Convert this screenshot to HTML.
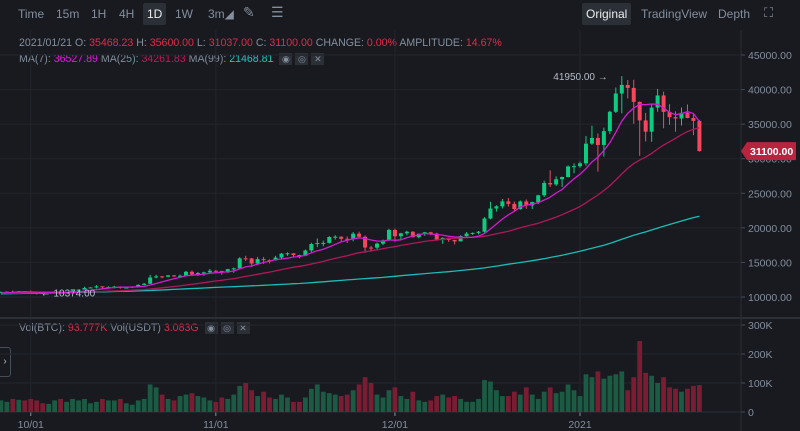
<!DOCTYPE html>
<html><head><meta charset="utf-8">
<style>
*{margin:0;padding:0;box-sizing:border-box}
body{width:800px;height:431px;background:#181a20;overflow:hidden;font-family:"Liberation Sans",sans-serif;color:#848e9c;position:relative}
.tb{position:absolute;top:0;left:0;width:800px;height:28px}
.tb span{position:absolute;top:7px;font-size:12px;color:#848e9c}
.info{position:absolute;left:19px;font-size:10.6px;white-space:nowrap}
.red{color:#e0294a}.mag{color:#e617e6}.ma25{color:#c2185b}.cy{color:#1ec8c0}
.ib{display:inline-block;width:13px;height:12px;background:#2b2f36;vertical-align:middle;margin-left:3px;text-align:center;line-height:12px;font-size:9px;color:#848e9c}
svg{position:absolute;left:0;top:0}
</style></head><body>
<div class="tb">
<span style="left:18px">Time</span>
<span style="left:56px">15m</span>
<span style="left:91px">1H</span>
<span style="left:119px">4H</span>
<span style="left:143px;top:3px;padding:4px 4px;background:#2b2f36;color:#eaecef;border-radius:2px">1D</span>
<span style="left:175px">1W</span>
<span style="left:208px">3m◢</span>
<span style="left:243px;font-size:14px;top:4px">✎</span>
<span style="left:271px;font-size:14px;top:4px">☰</span>
<span style="left:582px;top:3px;padding:4px 4px;background:#2b2f36;color:#eaecef;border-radius:2px">Original</span>
<span style="left:641px">TradingView</span>
<span style="left:718px">Depth</span>
<span style="left:764px;font-size:13px;top:5px">⛶</span>
</div>
<div class="info" style="top:37px">2021/01/21 O: <span class="red">35468.23</span> H: <span class="red">35600.00</span> L: <span class="red">31037.00</span> C: <span class="red">31100.00</span> CHANGE: <span class="red">0.00%</span> AMPLITUDE: <span class="red">14.67%</span></div>
<div class="info" style="top:53px">MA(7): <span class="mag">36527.89</span> MA(25): <span class="ma25">34261.83</span> MA(99): <span class="cy">21468.81</span> <span class="ib">◉</span><span class="ib">◎</span><span class="ib">✕</span></div>
<div class="info" style="top:322px">Vol(BTC): <span class="red">93.777K</span> Vol(USDT) <span class="red">3.083G</span> <span class="ib">◉</span><span class="ib">◎</span><span class="ib">✕</span></div>
<div style="position:absolute;left:0;top:347px;width:11px;height:30px;border:1px solid #474d57;border-left:none;border-radius:0 3px 3px 0;font-size:10px;line-height:28px;text-align:center;color:#b7bdc6">›</div>
<svg id="c" width="800" height="431"></svg>
<script>
const prior=[9300,9350,9280,9300,9630,9300,9250,9160,9010,9120,9190,9140,
9230,9090,9070,9130,9070,9340,9250,9430,9230,9290,9240,9280,9230,9300,9240,9200,9130,9150,9170,9210,9160,9390,9520,9580,9700,9940,10990,11000,11110,11110,11350,
11800,11070,11230,11200,11750,11770,11600,11750,11680,11880,11400,11580,11790,11770,11870,11910,12280,11950,11760,11870,11520,11680,11650,11760,11330,11460,11320,11540,11470,11700,11660,
11920,11390,10170,10470,10170,10240,10370,10130,10230,10370,10400,10440,10330,10680,10790,10950,10940,10930,10420,10540,10530,10240,10740,10690,10730];
const closes=[10730,10770,10690,10840,10780,
10620,10570,10550,10670,10790,10600,10670,10920,11060,11300,11380,11540,11430,11430,11500,11320,11370,11510,11750,11920,12820,12980,12930,13130,13030,13070,13650,13280,13460,13560,13800,
13760,13550,14030,14150,15590,15580,14840,15480,15330,15300,15700,16280,16320,16070,15960,16730,17660,17800,17820,18680,18720,18420,18370,19160,18720,17150,17140,17720,18180,19700,
18790,19210,19440,18650,19150,19360,19170,18320,18550,18250,18040,18800,19170,19270,19440,21350,22800,23110,23830,23470,22720,23820,23250,23730,24710,26490,26280,27030,27360,28880,28920,
29330,32180,33000,31990,33990,36790,39430,40670,40240,38220,35540,33910,37390,39150,36770,36010,35820,36630,35890,35470,31100];
const highs=[10800,10800,10950,10860,10850,
10930,10650,10600,10700,10800,10800,10690,10950,11100,11480,11420,11720,11560,11550,11620,11550,11420,11530,11830,12000,13200,13200,13030,13160,13160,13250,13770,13830,13620,13650,14060,
13890,13820,14060,14250,15750,15960,15650,15800,15800,15450,15950,16350,16470,16330,16120,16860,17850,18480,18150,18800,18950,18780,18760,19400,19450,18900,17400,17870,18310,19860,
19900,19280,19580,19520,19170,19410,19420,19290,18620,18550,18270,18920,19400,19340,19540,21550,23770,23280,24170,24300,23810,23970,24100,23790,24780,26830,28330,27450,27400,29020,29320,
29600,33300,34780,33650,34500,36940,40300,41950,41380,41420,38270,36630,37840,40100,39700,37900,36850,37400,37850,36400,35600];
const lows=[10660,10650,10680,10640,10680,
10550,10374,10500,10520,10650,10530,10550,10600,10830,11100,11280,11240,11200,11230,11250,11210,11250,11300,11470,11700,11900,12700,12730,12880,12900,12830,13000,13100,13030,13090,13500,
13450,13210,13500,13500,14100,15200,14350,14720,14800,14850,15270,15450,15950,15800,15600,15900,16450,17220,17350,17730,18300,18050,17800,18050,18650,16400,16550,16900,17500,18130,
18000,18330,18930,18600,18500,18850,18950,18150,17690,17970,17590,18050,18750,19000,19060,19300,21240,22350,22800,23080,22350,22620,22750,22720,23450,24460,25900,26080,25920,27300,27900,
28700,29000,32000,28130,30300,33570,36620,36570,38720,35050,30420,32500,32450,36800,34400,34900,33900,34800,35850,33400,31037];
const volumes=[40,35,45,42,40,
45,40,30,28,40,45,35,45,40,45,30,35,45,40,40,45,30,25,40,45,95,85,60,45,40,55,60,65,55,50,40,
35,50,45,60,90,100,75,55,70,50,45,60,50,35,35,50,80,95,70,65,60,55,60,75,95,120,100,60,50,75,
85,55,45,70,40,35,40,55,60,50,55,45,35,35,45,110,105,75,55,55,70,60,85,60,45,70,85,65,70,95,75,
55,130,120,140,115,125,130,140,75,120,245,135,125,100,120,85,80,70,80,90,93];
const priceTicks=[10000,15000,20000,25000,30000,35000,40000,45000];
const volTicks=[0,100,200,300];
const dateLabels=["10/01","11/01","12/01","2021"];
const dateIdx=[5,36,66,97];
const firstOpen=10700;

const NS="http://www.w3.org/2000/svg",svg=document.getElementById('c');
function el(t,a,p){const e=document.createElementNS(NS,t);for(const k in a)e.setAttribute(k,a[k]);(p||svg).appendChild(e);return e;}
const X=i=>580+(i-97)*5.97;
const Y=p=>297-(p-10000)*0.006914;
const VY=v=>412-v*0.29;
priceTicks.forEach(p=>{
 const g=el('line',{x1:0,x2:741,y1:Y(p),y2:Y(p),stroke:'#22252b'});
 
 el('line',{x1:741,x2:745,y1:Y(p),y2:Y(p),stroke:'#474d57'});
 const t=el('text',{x:748,y:Y(p)+4,fill:'#848e9c','font-size':'10.5','font-family':'Liberation Sans'});
 t.textContent=p.toFixed(2);
 
});
volTicks.forEach(v=>{
 if(v>0)el('line',{x1:0,x2:741,y1:VY(v),y2:VY(v),stroke:'#22252b'});
 el('line',{x1:741,x2:745,y1:VY(v),y2:VY(v),stroke:'#474d57'});
 const t=el('text',{x:748,y:VY(v)+4,fill:'#848e9c','font-size':'10.5','font-family':'Liberation Sans'});
 t.textContent=v===0?'0':v+'K';
 
});
dateIdx.forEach((d,k)=>{
 el('line',{x1:X(d),x2:X(d),y1:30,y2:412,stroke:'#22252b'});
 el('line',{x1:X(d),x2:X(d),y1:412,y2:416,stroke:'#848e9c'});
 const t=el('text',{x:X(d),y:428,fill:'#848e9c','font-size':'10.5','text-anchor':'middle','font-family':'Liberation Sans'});
 t.textContent=dateLabels[k];
 
});
el('line',{x1:741,x2:741,y1:30,y2:431,stroke:'#2b2f36'});
el('line',{x1:0,x2:800,y1:318,y2:318,stroke:'#2b2f36','stroke-width':2});
el('line',{x1:0,x2:741,y1:412,y2:412,stroke:'#2b2f36'});
closes.forEach((c,i)=>{
 const o=i?closes[i-1]:firstOpen, up=c>=o, x=X(i);
 const vb=el('rect',{x:x-2.4,y:VY(volumes[i]),width:4.8,height:412-VY(volumes[i]),fill:up?'#1b5a43':'#7a1d32'});
 
 const col=up?'#0ecb81':'#f6465d';
 const w=el('line',{x1:x,x2:x,y1:Y(highs[i]),y2:Y(lows[i]),stroke:col,'stroke-width':1});
 
 const t=Math.min(Y(o),Y(c)),h=Math.max(1,Math.abs(Y(o)-Y(c)));
 const b=el('rect',{x:x-2,y:t,width:4,height:h,fill:col});
 
});
const all=prior.concat(closes),off=prior.length;
function ma(n,color,name){
 let d='';
 closes.forEach((c,i)=>{const j=off+i;let s=0;for(let k=j-n+1;k<=j;k++)s+=all[k];d+=(i?'L':'M')+X(i).toFixed(1)+' '+Y(s/n).toFixed(1);});
 const p=el('path',{d,fill:'none',stroke:color,'stroke-width':1.3});
 
}
ma(99,'#1bbcb5','ma99-line');ma(25,'#b0175a','ma25-line');ma(7,'#d31bd3','ma7-line');
let mi=0,ni=0;highs.forEach((h,i)=>{if(h>highs[mi])mi=i;});lows.forEach((l,i)=>{if(l<lows[ni])ni=i;});
const mt=el('text',{x:X(mi)-14,y:Y(highs[mi])+4,fill:'#b7bdc6','font-size':'10','text-anchor':'end','font-family':'Liberation Sans'});
mt.textContent=highs[mi].toFixed(2)+' →';

const nt=el('text',{x:X(ni)+4,y:Y(lows[ni])+2,fill:'#b7bdc6','font-size':'10','font-family':'Liberation Sans'});
nt.textContent='← '+lows[ni].toFixed(2);

const ly=Y(closes[closes.length-1]);
const lb=el('path',{d:`M741 ${ly} L747 ${ly-9} L796 ${ly-9} L796 ${ly+9} L747 ${ly+9} Z`,fill:'#b8243e'});

const lt=el('text',{x:750,y:ly+4,fill:'#fff','font-size':'10.5','font-weight':'bold','font-family':'Liberation Sans'});
lt.textContent=closes[closes.length-1].toFixed(2);

</script>
</body></html>
